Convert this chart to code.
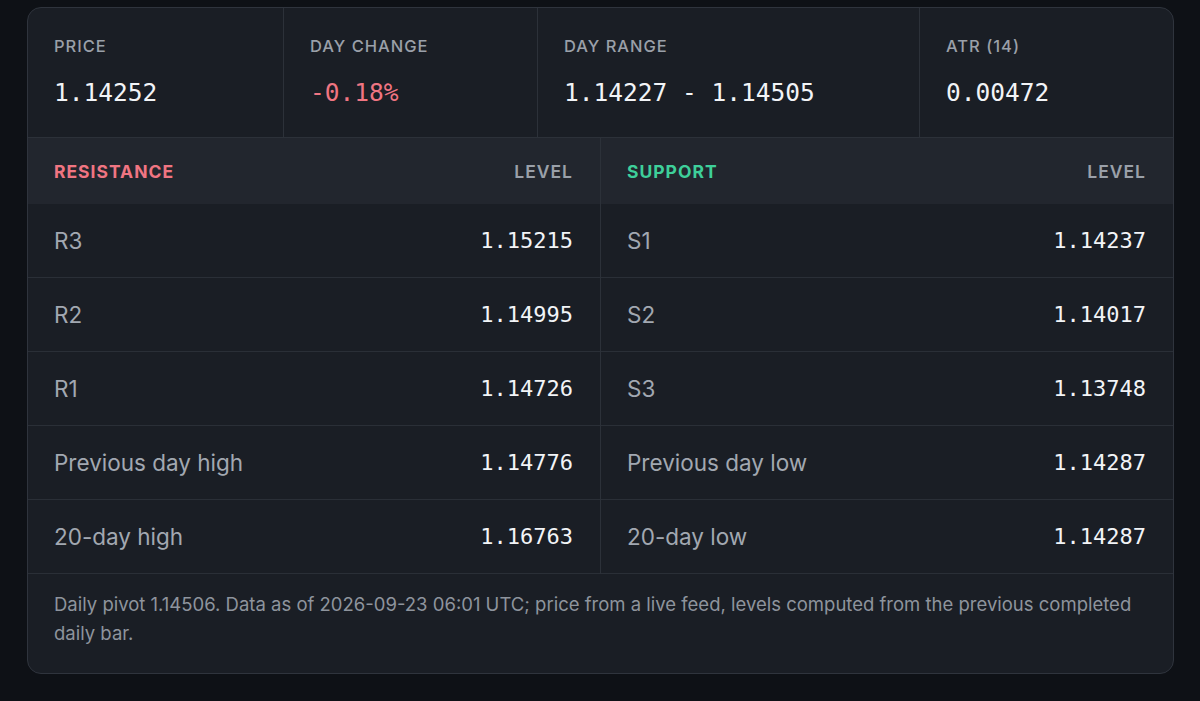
<!DOCTYPE html>
<html><head><meta charset="utf-8">
<script src="https://cdn.jsdelivr.net/npm/chart.js@4"></script>
<style>
html,body{margin:0;padding:0;background:#0e1116;width:1200px;height:701px;overflow:hidden;font-family:Inter,"Noto Sans",sans-serif;}
.card{position:absolute;left:27px;top:7px;width:1147px;height:667px;background:#1a1e25;border:1px solid #2f343d;border-radius:14px;overflow:hidden;box-sizing:border-box;}
.stats{display:flex;height:129px;border-bottom:1px solid #2c3139;}
.stat{box-sizing:border-box;padding:28px 0 0 26px;border-right:1px solid #2c3139;}
.stat:last-child{border-right:none;flex:1}
.lab{color:#9aa0a9;font-size:16.5px;letter-spacing:1px;font-weight:500;}
.val{color:#f2f4f7;font-family:"DejaVu Sans Mono","Liberation Mono",monospace;font-size:24.5px;margin-top:22px;}
.neg{color:#f07582}
.tables{display:flex;}
.col{box-sizing:border-box;}
.col:first-child{width:573px;border-right:1px solid #2c3139;}
.col:last-child{flex:1}
.head{height:66px;background:#22262e;display:flex;justify-content:space-between;align-items:center;padding:0 27px 0 26px;font-size:17.5px;font-weight:700;letter-spacing:1px;}
.head .lvl{color:#9aa0a9;font-weight:600}
.row{height:73px;display:flex;justify-content:space-between;align-items:center;padding:0 27px 0 26px;border-bottom:1px solid #2a2f37;}
.row .n{color:#a2a8b1;font-size:22.5px;}
.row .v{color:#f2f4f7;font-family:"DejaVu Sans Mono","Liberation Mono",monospace;font-size:22px;}
.foot{padding:16px 40px 0 26px;color:#8e949d;font-size:18.5px;line-height:29px;}
</style></head><body>
<div class="card">
 <div class="stats" id="stats"></div>
 <div class="tables">
  <div class="col" id="res"></div>
  <div class="col" id="sup"></div>
 </div>
 <div class="foot" id="foot"></div>
</div>
<script>
const statLabels=["PRICE","DAY CHANGE","DAY RANGE","ATR (14)"];
const statValues=["1.14252","-0.18%","1.14227 - 1.14505","0.00472"];
const statWidths=[256,254,382,null];
const resNames=["R3","R2","R1","Previous day high","20-day high"];
const resValues=["1.15215","1.14995","1.14726","1.14776","1.16763"];
const supNames=["S1","S2","S3","Previous day low","20-day low"];
const supValues=["1.14237","1.14017","1.13748","1.14287","1.14287"];
const footText="Daily pivot 1.14506. Data as of 2026-09-23 06:01 UTC; price from a live feed, levels computed from the previous completed daily bar.";

const st=document.getElementById('stats');
statLabels.forEach((l,i)=>{
  const d=document.createElement('div');d.className='stat';
  if(statWidths[i])d.style.width=statWidths[i]+'px';
  d.innerHTML='<div class="lab">'+l+'</div><div class="val'+(statValues[i].startsWith('-')?' neg':'')+'">'+statValues[i]+'</div>';
  st.appendChild(d);
});
function build(id,title,color,names,vals){
  const c=document.getElementById(id);
  let h='<div class="head"><span style="color:'+color+'">'+title+'</span><span class="lvl">LEVEL</span></div>';
  names.forEach((n,i)=>{h+='<div class="row"><span class="n">'+n+'</span><span class="v">'+vals[i]+'</span></div>';});
  c.innerHTML=h;
}
build('res','RESISTANCE','#f07582',resNames,resValues);
build('sup','SUPPORT','#3ecf9a',supNames,supValues);
document.getElementById('foot').textContent=footText;
</script>
</body></html>
